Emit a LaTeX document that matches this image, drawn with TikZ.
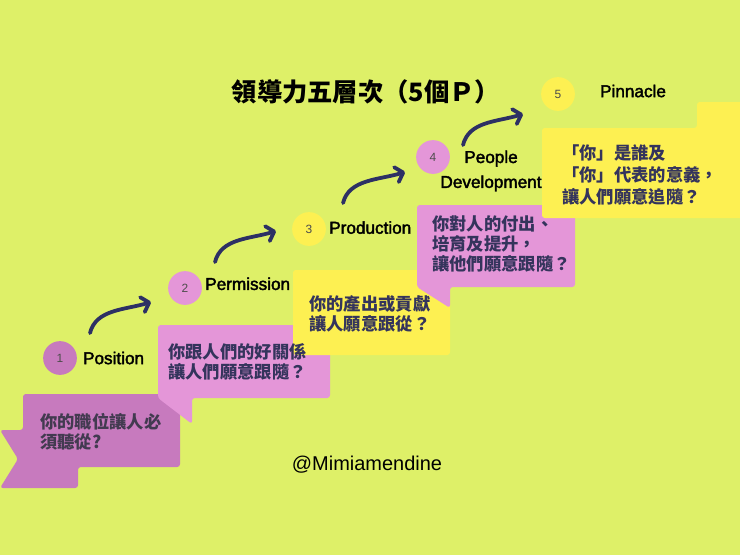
\documentclass[tikz,border=0pt]{standalone}
\usepackage{fontspec}
\setmainfont{Liberation Sans}
\newfontfamily\cjkfont{Noto Sans CJK TC}
\newfontfamily\labelfont{Liberation Sans}[FakeBold=2.2]
\usetikzlibrary{arrows.meta,positioning}
\definecolor{lime}{RGB}{222,240,104}
\definecolor{lvlpink}{RGB}{228,150,216}
\definecolor{lvlplum}{RGB}{199,122,190}
\definecolor{lvlyellow}{RGB}{253,240,82}
\definecolor{ink}{RGB}{45,48,100}
\definecolor{boxtext}{RGB}{52,52,92}
\definecolor{plumtext}{RGB}{66,58,80}
\tikzset{
  lvl/.style={circle, minimum size=24pt, inner sep=0pt, font=\fontsize{8.5}{8.5}\selectfont, text=black!70},
  lvlname/.style={font=\labelfont\fontsize{12.2}{17.7}\selectfont, inner sep=0pt},
  boxtxt/.style={font=\cjkfont\bfseries\fontsize{12.3}{14.5}\selectfont, text=boxtext, align=left, anchor=west, inner sep=0pt},
  climb/.style={ink, line width=2.7pt, line cap=round, -{Straight Barb[length=5pt,width=11pt,round]}},
  bubble/.style={rounded corners=2pt}
}
\begin{document}
\begin{tikzpicture}[x=0.025cm, y=-0.025cm]
\fill[lime] (0,0) rectangle (740,555);
\useasboundingbox (0,0) rectangle (740,555);

% speech boxes, lowest step first
\fill[lvlplum, bubble] (23,394) -- (180,394) -- (180,467) -- (78,467) -- (78,488) -- (0,488) -- (18,459) -- (0,430) -- (23,430) -- cycle;
\fill[lvlpink, bubble] (158,325) -- (330,325) -- (330,398) -- (192,398) -- (192,424) -- (158,398) -- cycle;
\fill[lvlyellow, bubble] (293,270) -- (450,270) -- (450,355) -- (293,355) -- cycle;
\fill[lvlpink, bubble] (417,205) -- (575,205) -- (575,287) -- (450,287) -- (450,308) -- (417,287) -- cycle;
\fill[lvlyellow, bubble] (542,128) -- (697,128) -- (697,102) -- (750,102) -- (750,218) -- (542,218) -- cycle;

\node[boxtxt, text=plumtext] (t1) at (40,432) {你的職位讓人必\\須聽從?};
\node[boxtxt] (t2) at (168,362) {你跟人們的好關係\\讓人們願意跟隨？};
\node[boxtxt] (t3) at (309,314) {你的產出或貢獻\\讓人願意跟從？};
\node[boxtxt] (t4) at (432,244) {你對人的付出、\\培育及提升，\\讓他們願意跟隨？};
\node[boxtxt, font=\cjkfont\bfseries\fontsize{12.3}{15.5}\selectfont] (t5) at (562,175) {「你」是誰及\\「你」代表的意義，\\讓人們願意追隨？};

% levels
\node[lvl, fill=lvlplum] (c1) at (60,358) {1};
\node[lvl, fill=lvlpink] (c2) at (185,288) {2};
\node[lvl, fill=lvlyellow] (c3) at (309,229) {3};
\node[lvl, fill=lvlpink] (c4) at (433,157) {4};
\node[lvl, fill=lvlyellow] (c5) at (558,94) {5};

\node[lvlname, right=4pt of c1] (n1) {Position};
\node[lvlname, right=2pt of c2, yshift=3pt] (n2) {Permission};
\node[lvlname, right=2pt of c3, yshift=1pt] (n3) {Production};
\node[lvlname, align=center] (n4) at (491,171) {People\\Development};
\node[lvlname] (n5) at (633,91) {Pinnacle};

\node[font=\cjkfont\bfseries\fontsize{18}{18}\selectfont] (title) at (366,92) {領導力五層次（5個Ｐ）};
\node[font=\fontsize{14.2}{14}\selectfont] (handle) at (367,465) {@Mimiamendine};

% arrows between steps
\coordinate (a1) at (90,333);  \coordinate (b1) at (151,302);
\coordinate (a2) at (215,262); \coordinate (b2) at (276,231);
\coordinate (a3) at (343,203); \coordinate (b3) at (405,172);
\coordinate (a4) at (463,145); \coordinate (b4) at (523,114);
\draw[climb] (a1) .. controls +(6,-24) and +(-26,8) .. (b1);
\draw[climb] (a2) .. controls +(6,-24) and +(-26,8) .. (b2);
\draw[climb] (a3) .. controls +(6,-24) and +(-26,8) .. (b3);
\draw[climb] (a4) .. controls +(6,-24) and +(-26,8) .. (b4);
\end{tikzpicture}
\end{document}
